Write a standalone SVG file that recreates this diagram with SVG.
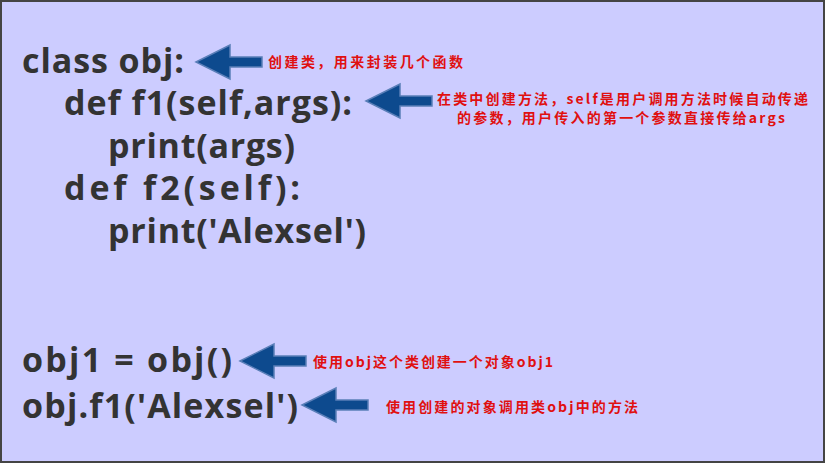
<svg xmlns="http://www.w3.org/2000/svg" width="825" height="463" viewBox="0 0 825 463">
<style>
.c{font-family:"Open Sans","Noto Sans CJK SC",sans-serif;font-weight:bold;font-size:34px;fill:#333}
.r{font-family:"Noto Sans CJK SC","Noto Sans",sans-serif;font-weight:bold;font-size:14px;fill:#e01010}
.a{fill:#0d4a8e;stroke:#5a7fb8;stroke-width:1.5}
</style>
<defs><path id="arr" d="M0,0 L34,-17 L34,-5 L66,-5 L66,5 L34,5 L34,17 Z"/></defs>
<rect x="1" y="1" width="823" height="461" fill="#ccccff" stroke="#444" stroke-width="2"/>
<g id="code">
<text class="c" x="22" y="73" textLength="162">class obj:</text>
<text class="c" x="64" y="115" textLength="288">def f1(self,args):</text>
<text class="c" x="108" y="158" textLength="187">print(args)</text>
<text class="c" x="64" y="200" textLength="236">def f2(self):</text>
<text class="c" x="108" y="243" textLength="258">print('Alexsel')</text>
<text class="c" x="22" y="372" textLength="210">obj1 = obj()</text>
<text class="c" x="22" y="418" textLength="276">obj.f1('Alexsel')</text>
</g>
<g id="connectors">
<use href="#arr" class="a" transform="translate(196,62)"/>
<use href="#arr" class="a" transform="translate(366,101)"/>
<use href="#arr" class="a" transform="translate(240,361)"/>
<use href="#arr" class="a" transform="translate(302,405)"/>
</g>
<g id="notes">
<text class="r" x="268" y="67" textLength="195">创建类，用来封装几个函数</text>
<text class="r" x="437" y="104" textLength="371">在类中创建方法，self是用户调用方法时候自动传递</text>
<text class="r" x="457" y="123" textLength="328">的参数，用户传入的第一个参数直接传给args</text>
<text class="r" x="313" y="367" textLength="240">使用obj这个类创建一个对象obj1</text>
<text class="r" x="386" y="412" textLength="252">使用创建的对象调用类obj中的方法</text>
</g>
</svg>
